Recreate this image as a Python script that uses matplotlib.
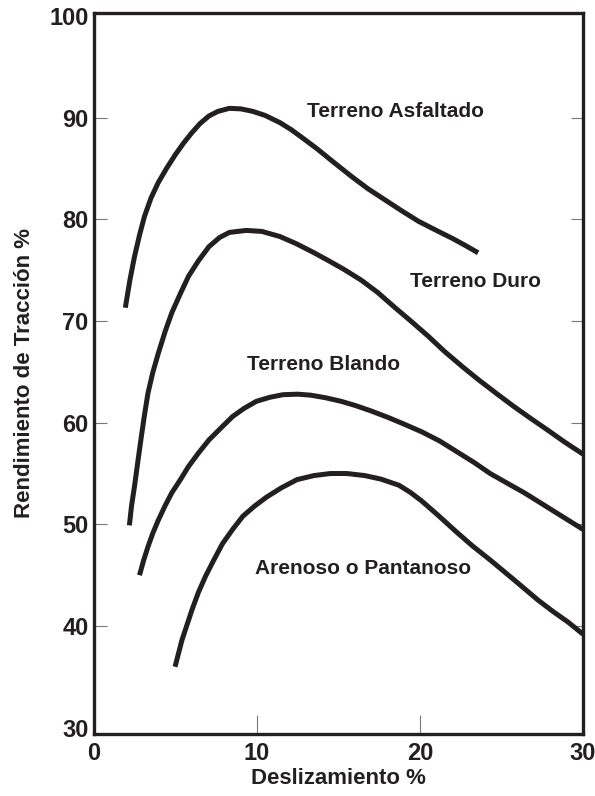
import matplotlib
matplotlib.use('Agg')
import matplotlib.pyplot as plt

# curves (deslizamiento %, rendimiento %)
asfaltado_x = [1.92, 2.2, 2.48, 2.8, 3.1, 3.5, 3.94, 4.45, 4.97, 5.5, 6.0, 6.5, 7.05, 7.6, 8.3,
               9.0, 9.75, 10.5, 11.4, 12.1, 12.87, 13.7, 14.7, 15.8, 16.8, 17.85, 18.9, 19.9,
               21.0, 22.0, 22.8, 23.56]
asfaltado_y = [71.3, 74.0, 76.3, 78.5, 80.3, 82.1, 83.6, 85.0, 86.3, 87.5, 88.5, 89.4, 90.15, 90.6, 90.9,
               90.85, 90.6, 90.2, 89.5, 88.8, 87.9, 86.9, 85.6, 84.2, 83.0, 81.9, 80.8, 79.8,
               78.9, 78.1, 77.4, 76.7]

duro_x = [2.17, 2.3, 2.48, 2.7, 2.9, 3.1, 3.31, 3.6, 3.94, 4.35, 4.77, 5.3, 5.8, 6.4, 7.05, 7.7,
          8.3, 9.33, 10.3, 11.4, 12.4, 13.5, 14.3, 15.3, 16.4, 17.4, 18.47, 19.5, 20.5, 21.5,
          22.6, 23.6, 24.7, 25.7, 26.8, 27.8, 28.86, 30.0]
duro_y = [49.9, 51.8, 53.7, 56.3, 58.6, 60.8, 62.9, 64.9, 66.8, 68.9, 70.8, 72.7, 74.4, 75.9, 77.3, 78.2,
          78.7, 78.9, 78.8, 78.3, 77.6, 76.7, 76.0, 75.1, 74.0, 72.8, 71.3, 69.9, 68.5, 67.0,
          65.5, 64.2, 62.85, 61.65, 60.4, 59.3, 58.1, 56.9]

blando_x = [2.79, 3.05, 3.31, 3.6, 3.94, 4.35, 4.77, 5.3, 5.8, 6.4, 7.05, 7.8, 8.5, 9.2, 9.96,
            10.8, 11.6, 12.5, 13.3, 14.2, 15.15, 16.0, 17.0, 18.06, 19.1, 20.1, 21.2, 22.2,
            23.3, 24.3, 25.4, 26.4, 27.4, 28.4, 29.4, 30.0]
blando_y = [45.0, 46.5, 47.8, 49.1, 50.4, 51.8, 53.1, 54.4, 55.7, 57.0, 58.3, 59.5, 60.6, 61.4, 62.1,
            62.5, 62.75, 62.8, 62.7, 62.45, 62.1, 61.7, 61.15, 60.5, 59.8, 59.1, 58.2, 57.2,
            56.1, 55.0, 54.0, 53.1, 52.1, 51.1, 50.1, 49.5]

arenoso_x = [4.97, 5.18, 5.39, 5.7, 6.01, 6.4, 6.84, 7.35, 7.88, 8.5, 9.13, 9.85, 10.6, 11.5, 12.45,
             13.5, 14.5, 15.5, 16.6, 17.6, 18.7, 19.4, 20.1, 21.1, 22.2, 23.2, 24.3, 25.8, 27.2,
             28.1, 29.07, 30.0]
arenoso_y = [36.0, 37.3, 38.6, 40.1, 41.6, 43.3, 44.9, 46.5, 48.1, 49.5, 50.8, 51.8, 52.7, 53.6, 54.4,
             54.8, 55.0, 55.0, 54.8, 54.45, 53.85, 53.15, 52.3, 50.9, 49.3, 47.9, 46.5, 44.5, 42.6,
             41.5, 40.4, 39.2]

labels = ['Terreno Asfaltado', 'Terreno Duro', 'Terreno Blando', 'Arenoso o Pantanoso']
label_x = [18.47, 23.43, 14.1, 16.5]
label_y = [90.6, 73.9, 65.7, 45.7]

ink = '#231f20'
plt.rcParams['font.family'] = ['Liberation Sans', 'DejaVu Sans']
plt.rcParams['font.weight'] = 'bold'

fig = plt.figure(figsize=(5.95, 7.96), dpi=100)
ax = fig.add_axes([0.158, 0.078, 0.822, 0.906])

for xs, ys in [(asfaltado_x, asfaltado_y), (duro_x, duro_y),
               (blando_x, blando_y), (arenoso_x, arenoso_y)]:
    ax.plot(xs, ys, color=ink, lw=3.6, solid_capstyle='butt', solid_joinstyle='round')

for t, x, y in zip(labels, label_x, label_y):
    ax.text(x, y, t, ha='center', va='center', fontsize=15, fontweight='bold', color=ink)

ax.set_xlim(0, 30)
ax.set_ylim(29.4, 100.3)
ax.set_xticks([0, 10, 20, 30])
ax.set_yticks(range(30, 101, 10))
ax.tick_params(axis='y', direction='in', length=9, width=0.8, color='#777777',
               labelsize=17, pad=4, labelcolor=ink, right=True)
ax.tick_params(axis='x', direction='in', length=14, width=0.8, color='#777777',
               labelsize=17, pad=6, labelcolor=ink)

# hide tick marks that sit on the corners
yt = ax.yaxis.get_major_ticks()
for i in (0, len(yt) - 1):
    yt[i].tick1line.set_visible(False)
    yt[i].tick2line.set_visible(False)
xt = ax.xaxis.get_major_ticks()
for i in (0, len(xt) - 1):
    xt[i].tick1line.set_visible(False)

for s in ax.spines.values():
    s.set_linewidth(2.4)
    s.set_color(ink)

ax.set_xlabel('Deslizamiento %', fontsize=16, fontweight='bold', color=ink, labelpad=2)
ax.set_ylabel('Rendimiento de Tracción %', fontsize=16, fontweight='bold', color=ink, labelpad=10)

fig.savefig('out.png', dpi=100)
